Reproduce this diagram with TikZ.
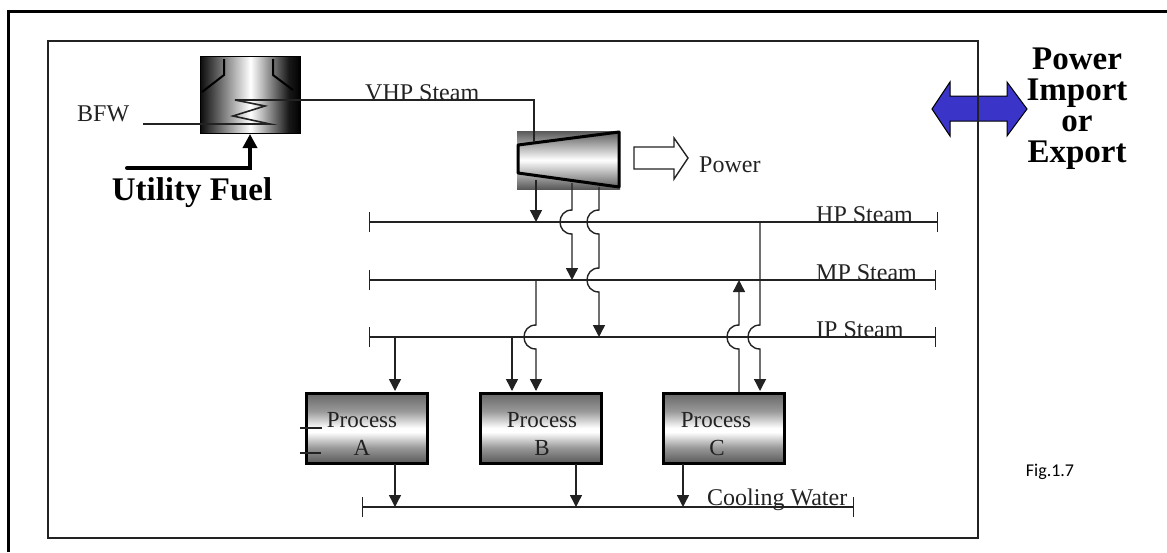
\documentclass[tikz,border=0pt]{standalone}
\usepackage{fontspec}
\setmainfont{Liberation Serif}
\newfontfamily\figfont{Carlito}
\usetikzlibrary{arrows.meta}
\pgfdeclareverticalshading{procshade}{100bp}{color(0bp)=(black!65); color(25bp)=(black!65); color(36bp)=(black!40); color(47bp)=(white); color(50bp)=(white); color(62bp)=(black!40); color(75bp)=(black!60); color(100bp)=(black!60)}
\pgfdeclareverticalshading{turbshade}{100bp}{color(0bp)=(black!65); color(25bp)=(black!65); color(50bp)=(white); color(75bp)=(black!65); color(100bp)=(black!65)}
\pgfdeclarehorizontalshading{furnshade}{100bp}{color(0bp)=(black); color(25bp)=(black!95); color(50bp)=(white); color(69bp)=(black!90); color(75bp)=(black); color(100bp)=(black)}
\definecolor{inkgray}{HTML}{222222}
\definecolor{arrowblue}{HTML}{3A34C8}
\tikzset{
    pipe/.style={draw=inkgray,line width=1.4pt},
    flow/.style={pipe,-{Triangle[width=12pt,length=12pt]}},
    header/.style={pipe,{Bar[width=20pt]}-{Bar[width=20pt]}},
    hop/.style={to path={.. controls +(-16,0) and +(-16,0) .. (\tikztotarget)}},
    procbox/.style={draw=black,line width=3pt,shading=procshade,minimum width=121pt,minimum height=70pt,inner sep=0pt},
    lbl/.style={font=\fontsize{24}{24}\selectfont,text=inkgray,inner sep=0pt},
    proclbl/.style={font=\fontsize{23}{23}\selectfont,text=inkgray,inner sep=0pt},
    bigbold/.style={font=\fontsize{33}{31}\selectfont\bfseries,text=black,inner sep=0pt,align=center},
}
\begin{document}
\begin{tikzpicture}[x=1pt,y=-1pt]
    \useasboundingbox (0,0) rectangle (1167,552);
    \draw[line width=3pt] (8,552) -- (8,11) -- (1167,11);

    \draw[black,line width=1pt,fill=arrowblue] (932,109) -- (950,82) -- (950,96) -- (1007,96) -- (1007,82)
        -- (1027,109) -- (1007,136) -- (1007,121) -- (950,121) -- (950,136) -- cycle;
    \draw[inkgray,line width=1.4pt] (48,41) rectangle (978,538);

    \node[draw=black,line width=1pt,shading=furnshade,minimum width=100pt,minimum height=77pt,inner sep=0pt] (furnace) at (250.5,95) {};
    \node[shading=turbshade,minimum width=103pt,minimum height=58pt,inner sep=0pt] (turbine) at (568.5,160) {};
    \draw[black,line width=3pt,line join=round] (518,145) -- (619,132) -- (619,187) -- (518,173) -- cycle;
    \node[procbox] (procA) at (366.5,428) {};
    \node[procbox] (procB) at (540.5,428) {};
    \node[procbox] (procC) at (723.5,428) {};

    \foreach \n/\x/\y in {hpL/369/222,hpR/938/222,mpL/369/280,mpR/936/280,ipL/369/337,ipR/936/337,cwL/362/507,cwR/854/507,
        bfwIn/143/124,coilEnd/270/124,coilB/233/116,coilC/265/106,coilD/235/100,vhpA/300/100,vhpB/534/100,vhpC/534/142,
        fuelIn/127/168,fuelBend/250/168,fuelEnd/250/134,
        ta/536/180,tb/572/183,tc/599/187,tbUp/572/210,tbDn/572/234,tbEnd/572/280,tcA/599/210,tcB/599/234,tcC/599/268,tcD/599/292,tcEnd/599/337,taEnd/536/222,
        hpC/760/222,hpCa/760/325,hpCb/760/349,hpCe/760/391,
        mpB/536/280,mpBa/536/325,mpBb/536/349,mpBe/536/391,
        ipA/395/337,ipAe/395/391,ipB/512/337,ipBe/512/391,
        cOut/739/392,cOuta/739/349,cOutb/739/325,cOute/739/280,
        aOut/395/464,aEnd/395/507,bOut/576/464,bEnd/576/507,cBot/683/464,cEnd/683/507,
        tickAa/300/428,tickAb/322/428,tickBa/300/453,tickBb/321/453}
        {\coordinate (\n) at (\x,\y);}

    \draw[black,line width=2pt] (224,59) -- (224,75) -- (202,92);
    \draw[black,line width=2pt] (273,59) -- (273,75) -- (293,90);
    \draw[pipe,line width=1.6pt] (bfwIn) -- (coilEnd) -- (coilB) -- (coilC) -- (coilD) -- (vhpA) -- (vhpB) -- (vhpC);
    \draw[black,line width=4pt,line cap=round,-{Triangle[width=14pt,length=14pt]}] (fuelIn) -- (fuelBend) -- (fuelEnd);
    \draw[draw=inkgray,line width=1.4pt,fill=white] (634,147) -- (674,147) -- (674,138) -- (688,158) -- (674,179) -- (674,169) -- (634,169) -- cycle;

    \draw[header] (hpL) -- (hpR);
    \draw[header] (mpL) -- (mpR);
    \draw[header] (ipL) -- (ipR);
    \draw[header] (cwL) -- (cwR);

    \draw[flow] (ta) -- (taEnd);
    \draw[flow] (tb) -- (tbUp) to[hop] (tbDn) -- (tbEnd);
    \draw[flow] (tc) -- (tcA) to[hop] (tcB) -- (tcC) to[hop] (tcD) -- (tcEnd);
    \draw[flow] (hpC) -- (hpCa) to[hop] (hpCb) -- (hpCe);
    \draw[flow] (mpB) -- (mpBa) to[hop] (mpBb) -- (mpBe);
    \draw[flow] (ipA) -- (ipAe);
    \draw[flow] (ipB) -- (ipBe);
    \draw[flow] (cOut) -- (cOuta) to[hop] (cOutb) -- (cOute);
    \draw[flow] (aOut) -- (aEnd);
    \draw[flow] (bOut) -- (bEnd);
    \draw[flow] (cBot) -- (cEnd);
    \draw[pipe] (tickAa) -- (tickAb);
    \draw[pipe] (tickBa) -- (tickBb);

    \node[lbl,anchor=west] (bfw) at (77,114) {BFW};
    \node[lbl,anchor=base west] (vhp) at (365,100) {VHP Steam};
    \node[lbl,anchor=west] (power) at (699,165) {Power};
    \node[lbl,anchor=base west] (hp) at (816,222) {HP Steam};
    \node[lbl,anchor=base west] (mp) at (816,280) {MP Steam};
    \node[lbl,anchor=base west] (ip) at (816,337) {IP Steam};
    \node[lbl,anchor=base west] (cw) at (707,505) {Cooling Water};
    \node[proclbl] (procAa) at (362,420) {Process};
    \node[proclbl] (procAb) at (362,448) {A};
    \node[proclbl] (procBa) at (542,420) {Process};
    \node[proclbl] (procBb) at (542,448) {B};
    \node[proclbl] (procCa) at (716,420) {Process};
    \node[proclbl] (procCb) at (717,448) {C};
    \node[bigbold] (fuel) at (192,193) {Utility Fuel};
    \node[bigbold] (trade) at (1077,109) {Power\\Import\\or\\Export};
    \node[inner sep=0pt,font=\fontsize{18}{18}\selectfont\figfont] (figno) at (1050,472) {Fig.1.7};
\end{tikzpicture}
\end{document}
